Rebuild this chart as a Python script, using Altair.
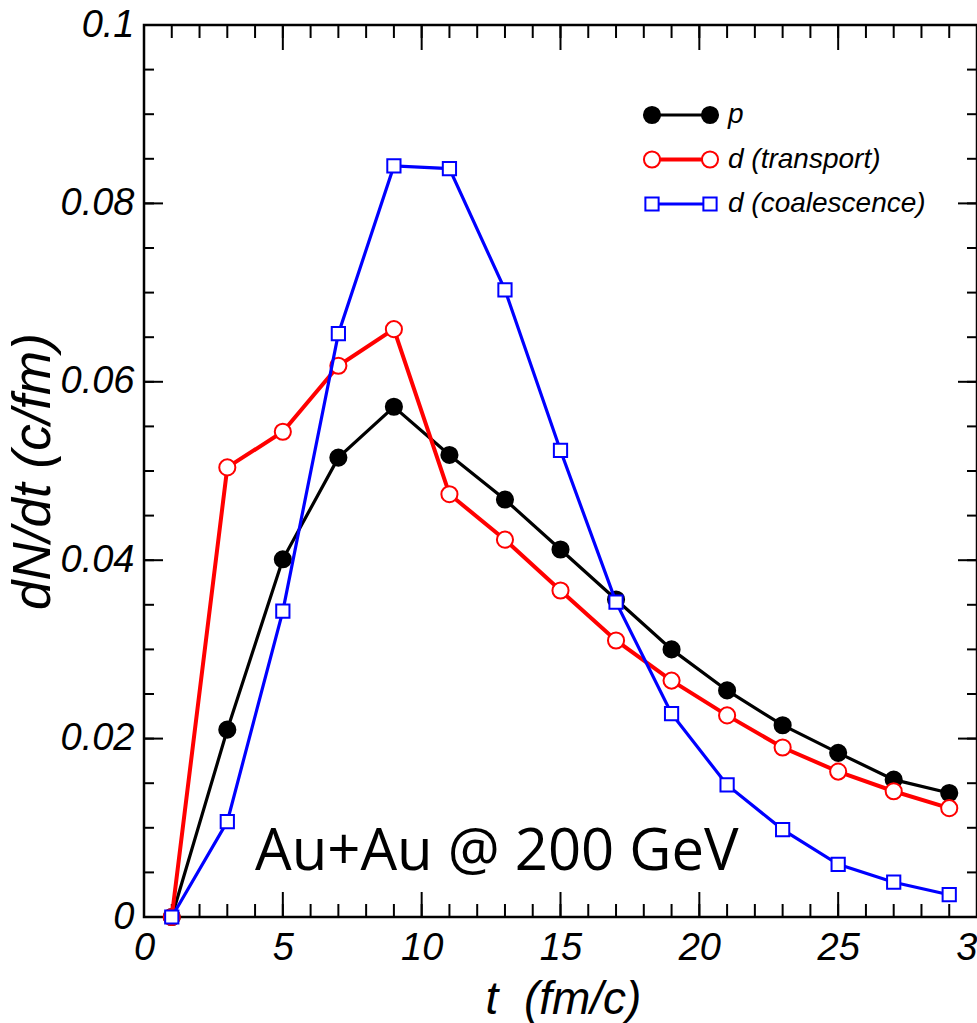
import altair as alt
import pandas as pd

# ---------------- data ----------------
t_values = [1, 3, 5, 7, 9, 11, 13, 15, 17, 19, 21, 23, 25, 27, 29]
p_values = [0.0, 0.0210, 0.0401, 0.0515, 0.0572, 0.0518, 0.0468, 0.0412,
            0.0356, 0.0300, 0.0254, 0.0215, 0.0184, 0.0154, 0.0139]
d_transport = [0.0, 0.0504, 0.0544, 0.0618, 0.0659, 0.0474, 0.0423, 0.0366,
               0.0310, 0.0265, 0.0226, 0.0190, 0.0163, 0.0141, 0.0122]
d_coalescence = [0.0, 0.0107, 0.0343, 0.0654, 0.0842, 0.0839, 0.0703, 0.0523,
                 0.0353, 0.0228, 0.0148, 0.0098, 0.0059, 0.0039, 0.0025]

series_names = ["p", "d (transport)", "d (coalescence)"]
series_values = [p_values, d_transport, d_coalescence]

x_major = [0, 5, 10, 15, 20, 25, 30]
x_minor = list(range(0, 31))
y_major = [0.0, 0.02, 0.04, 0.06, 0.08, 0.1]
y_minor = [round(i * 0.005, 3) for i in range(0, 21)]

annotation = "Au+Au @ 200 GeV"
x_title = "t\u00a0\u00a0(fm/c)"
y_title = "dN/dt (c/fm)"

# ---------------- layout / style ----------------
W, H = 833, 892
PAD_L, PAD_T, PAD_R, PAD_B = 144, 25, 0, 106
NARROW = "Liberation Sans Narrow, Liberation Sans, Arial"
REG = "Liberation Sans, Arial"

xs = alt.Scale(domain=[0, 30], nice=False, zero=False)
ys = alt.Scale(domain=[0, 0.1], nice=False, zero=False)

X_AXIS = alt.Axis(
    values=x_major, format="d", title=x_title, ticks=False,
    domain=False, grid=False, labelPadding=12, labelFont=NARROW,
    labelFontStyle="italic", labelFontSize=38, labelColor="black",
    labelFlush=False, labelOverlap=False,
    titleFont=NARROW, titleFontStyle="italic", titleFontSize=46,
    titleFontWeight="normal", titleColor="black",
    titleX=419, titleY=96, titleAlign="center", titleBaseline="alphabetic")
Y_AXIS = alt.Axis(
    values=y_major, format="~g", title=y_title, ticks=False,
    domain=False, grid=False, labelPadding=10, labelFont=NARROW,
    labelFontStyle="italic", labelFontSize=38, labelColor="black",
    labelFlush=False, labelOverlap=False,
    titleFont=REG, titleFontStyle="italic", titleFontSize=53,
    titleFontWeight="normal", titleColor="black", titleAngle=270,
    titleX=-95, titleY=446, titleAlign="center", titleBaseline="alphabetic")

def X(field):
    return alt.X(field, scale=xs, axis=X_AXIS)

def Y(field):
    return alt.Y(field, scale=ys, axis=Y_AXIS)

styles = [
    dict(color="black", fill="black", shape="circle", size=260, lw=3.2),
    dict(color="#ff0000", fill="white", shape="circle", size=260, lw=4),
    dict(color="#0000ff", fill="white", shape="square", size=175, lw=3.2),
]

layers = []

# inward ticks on all four sides
def xticks(vals, length):
    df = pd.DataFrame({"tv": vals})
    bottom = alt.Chart(df).mark_rule(color="black", strokeWidth=2).encode(
        x=X("tv:Q"), y=alt.value(H), y2=alt.value(H - length))
    top = alt.Chart(df).mark_rule(color="black", strokeWidth=2).encode(
        x=X("tv:Q"), y=alt.value(0), y2=alt.value(length))
    return [bottom, top]

def yticks(vals, length):
    df = pd.DataFrame({"tv": vals})
    left = alt.Chart(df).mark_rule(color="black", strokeWidth=2).encode(
        y=Y("tv:Q"), x=alt.value(0), x2=alt.value(length))
    right = alt.Chart(df).mark_rule(color="black", strokeWidth=2).encode(
        y=Y("tv:Q"), x=alt.value(W), x2=alt.value(W - length))
    return [left, right]

layers += xticks(x_minor, 13) + xticks(x_major, 25)
layers += yticks(y_minor, 10) + yticks(y_major, 19)

# series: line + markers
for name, vals, st in zip(series_names, series_values, styles):
    df = pd.DataFrame({"t": t_values, "v": vals, "series": name})
    line = alt.Chart(df).mark_line(color=st["color"], strokeWidth=st["lw"]).encode(
        x=X("t:Q"), y=Y("v:Q"))
    pts = alt.Chart(df).mark_point(
        shape=st["shape"], filled=True, fill=st["fill"], stroke=st["color"],
        strokeWidth=2, size=st["size"], opacity=1).encode(
        x=X("t:Q"), y=Y("v:Q"))
    layers += [line, pts]

# manual legend (top right)
LX0, LX1, LTX = 508, 566, 584
LY0, LDY = 90, 44.5
for i, (name, st) in enumerate(zip(series_names, styles)):
    ly = LY0 + i * LDY
    ldf = pd.DataFrame({"label": [name]})
    layers.append(alt.Chart(ldf).mark_rule(color=st["color"], strokeWidth=st["lw"]).encode(
        x=alt.value(LX0), x2=alt.value(LX1), y=alt.value(ly)))
    for lx in (LX0, LX1):
        layers.append(alt.Chart(ldf).mark_point(
            shape=st["shape"], filled=True, fill=st["fill"], stroke=st["color"],
            strokeWidth=2, size=st["size"], opacity=1).encode(
            x=alt.value(lx), y=alt.value(ly)))
    layers.append(alt.Chart(ldf).mark_text(
        align="left", baseline="middle", font=REG, fontStyle="italic",
        fontSize=28, color="black").encode(
        x=alt.value(LTX), y=alt.value(ly), text="label:N"))

# annotation
ann_df = pd.DataFrame({"label": [annotation]})
layers.append(alt.Chart(ann_df).mark_text(
    align="left", baseline="alphabetic", font="Open Sans", fontSize=58,
    color="black").encode(x=alt.value(111), y=alt.value(845), text="label:N"))

chart = alt.layer(*layers).properties(
    width=W, height=H,
    autosize=alt.AutoSizeParams(type="none"),
    padding={"left": PAD_L, "top": PAD_T, "right": PAD_R, "bottom": PAD_B},
    background="white",
).configure_view(stroke="black", strokeWidth=2.5)

chart.save("out.html", embed_options={"renderer": "svg", "actions": False})
